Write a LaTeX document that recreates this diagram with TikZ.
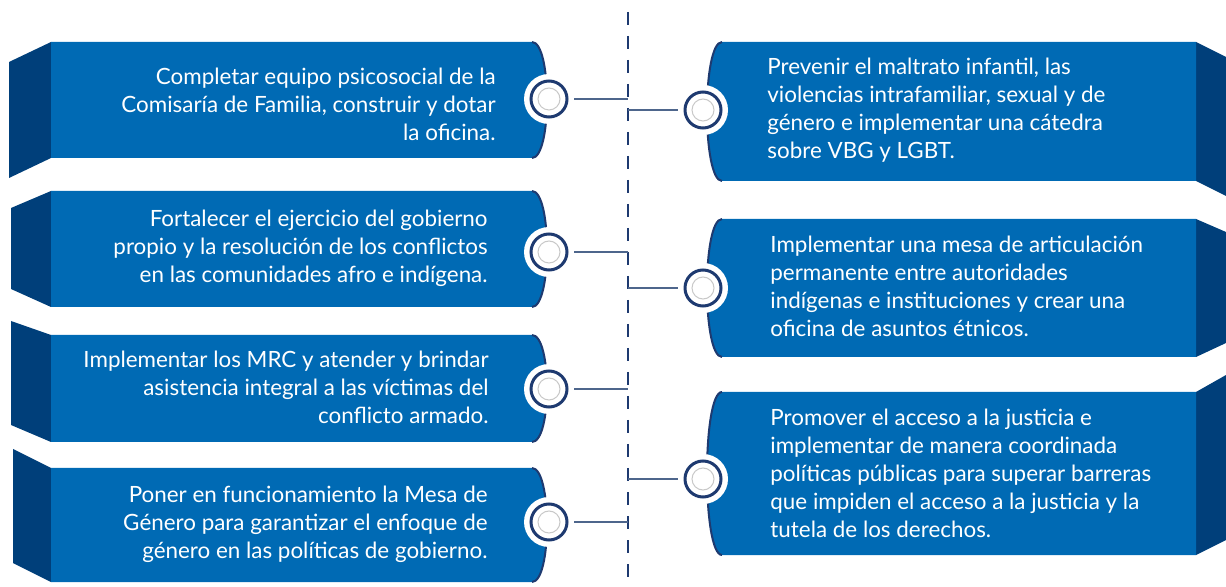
\documentclass[tikz,border=0pt]{standalone}
\usepackage{fontspec}
\setmainfont{Lato}
\definecolor{cardblue}{RGB}{0,106,180}
\definecolor{flapblue}{RGB}{0,63,122}
\definecolor{rimblue}{RGB}{30,58,112}
\definecolor{linkgray}{RGB}{78,102,140}
\definecolor{ringgray}{RGB}{200,200,200}
\tikzset{
  knob/.style={circle,fill=white,minimum size=25pt,inner sep=0pt},
  link/.style={linkgray,line width=1pt},
  spine/.style={rimblue,line width=0.8pt,dash pattern=on 6.5pt off 5.5pt},
  ltext/.style={text=white,align=right,anchor=east,inner sep=0pt,font=\fontsize{11.2}{14}\selectfont},
  rtext/.style={text=white,align=left,anchor=west,inner sep=0pt,font=\fontsize{11.2}{14}\selectfont}
}
\newcommand{\lcard}[5]{%
  \fill[flapblue] (#5,#3) -- (51,#1) -- (51,#2) -- (#5,#4) -- cycle;
  \fill[cardblue] (51,#1) -- (532,#1) .. controls (552,#1) and (552,#2) .. (532,#2) -- (51,#2) -- cycle;
  \draw[rimblue,line width=1pt] (532,#1) .. controls (552,#1) and (552,#2) .. (532,#2);}
\newcommand{\rcard}[4]{%
  \fill[flapblue] (1196,#1) -- (1226,#3) -- (1226,#4) -- (1196,#2) -- cycle;
  \fill[cardblue] (1196,#1) -- (722,#1) .. controls (702,#1) and (702,#2) .. (722,#2) -- (1196,#2) -- cycle;
  \draw[rimblue,line width=1pt] (722,#1) .. controls (702,#1) and (702,#2) .. (722,#2);}
\newcommand{\knob}[3]{\node[knob] (#3) at (#1,#2) {};
  \draw[rimblue,line width=1.5pt] (#3) circle (9pt);
  \draw[ringgray,line width=0.5pt] (#3) circle (5.5pt);}

\begin{document}
\begin{tikzpicture}[x=0.5pt,y=-0.5pt]
  \useasboundingbox (0,0) rectangle (1226,587);
  \coordinate (top) at (628,12); \coordinate (bot) at (628,587);
  \draw[spine] (top) -- (bot);
  \lcard{42}{158}{62}{178}{9} \lcard{191}{307}{208}{289}{11}
  \lcard{335}{442}{321}{425}{11} \lcard{468}{582}{449}{563}{13}
  \rcard{42}{181}{57}{196} \rcard{219}{357}{232}{343} \rcard{392}{555}{375}{540}
  \knob{549}{99}{kl1} \knob{549}{252}{kl2} \knob{549}{389}{kl3} \knob{549}{522}{kl4}
  \knob{703}{110}{kr1} \knob{703}{288}{kr2} \knob{703}{479}{kr3}
  \foreach \k in {kl1,kl2,kl3,kl4,kr1,kr2,kr3} \draw[link] (\k) -- (\k -| top);
  \node[ltext] (tl1) at (496,104) {Completar equipo psicosocial de la\\Comisaría de Familia, construir y dotar\\la oficina.};
  \node[ltext] (tl2) at (488,248) {Fortalecer el ejercicio del gobierno\\propio y la resolución de los conflictos\\en las comunidades afro e indígena.};
  \node[ltext] (tl3) at (489,387) {Implementar los MRC y atender y brindar\\asistencia integral a las víctimas del\\conflicto armado.};
  \node[ltext] (tl4) at (488,524) {Poner en funcionamiento la Mesa de\\Género para garantizar el enfoque de\\género en las políticas de gobierno.};
  \node[rtext] (tr1) at (767,110) {Prevenir el maltrato infantil, las\\violencias intrafamiliar, sexual y de\\género e implementar una cátedra\\sobre VBG y LGBT.};
  \node[rtext] (tr2) at (770,286) {Implementar una mesa de articulación\\permanente entre autoridades\\indígenas e instituciones y crear una\\oficina de asuntos étnicos.};
  \node[rtext] (tr3) at (770,473) {Promover el acceso a la justicia e\\implementar de manera coordinada\\políticas públicas para superar barreras\\que impiden el acceso a la justicia y la\\tutela de los derechos.};
\end{tikzpicture}
\end{document}
